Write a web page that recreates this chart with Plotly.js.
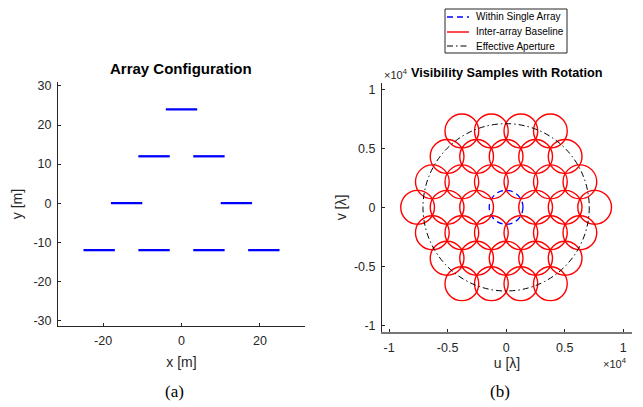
<!DOCTYPE html>
<html><head><meta charset="utf-8">
<script src="https://cdn.plot.ly/plotly-3.0.1.min.js"></script>
<style>html,body{margin:0;padding:0;background:#fff}</style>
</head><body><div id="chart" style="width:643px;height:407px"></div>
<script>
// ---- (a) Array configuration: array centers [m] and array length [m]
const arrayX = [0, -7, 7, -14, 14, -21, -7, 7, 21];
const arrayY = [24, 12, 12, 0, 0, -12, -12, -12, -12];
const arrayLength = 8;

// ---- (b) Visibility samples (units of 1e4 wavelengths)
const rowV = [0.648, 0.432, 0.216, 0, -0.216, -0.432, -0.648];
const rowU = [
  [-0.378, -0.126, 0.126, 0.378],
  [-0.504, -0.252, 0, 0.252, 0.504],
  [-0.63, -0.378, -0.126, 0.126, 0.378, 0.63],
  [-0.756, -0.504, -0.252, 0.252, 0.504, 0.756],
  [-0.63, -0.378, -0.126, 0.126, 0.378, 0.63],
  [-0.504, -0.252, 0, 0.252, 0.504],
  [-0.378, -0.126, 0.126, 0.378]
];
const sampleRadius = 0.144;      // radius of each visibility footprint
const singleArrayU = [0], singleArrayV = [0];
const apertureRadius = 0.71;     // effective aperture radius

const legendNames = ['Within Single Array', 'Inter-array Baseline', 'Effective Aperture'];

const W = 643, H = 407;
const fontFam = '"Liberation Sans", Arial, sans-serif';
const axCol = '#262626';
const styles = [
  {color: '#0000ff', width: 1.3, dash: '6px,4px'},
  {color: '#ff0000', width: 1.4, dash: 'solid'},
  {color: '#000000', width: 1, dash: '6px,3px,1.5px,3px'}
];

// build segments for the arrays
const segX = [], segY = [];
arrayX.forEach((cx, i) => {
  segX.push(cx - arrayLength / 2, cx + arrayLength / 2, null);
  segY.push(arrayY[i], arrayY[i], null);
});

const px = v => v / W, py = v => 1 - v / H;

const shapes = [];
const circ = (u, v, r, st) => ({type: 'circle', xref: 'x2', yref: 'y2', x0: u - r, x1: u + r,
    y0: v - r, y1: v + r, line: st, layer: 'above'});
singleArrayU.forEach((u, i) => shapes.push(circ(u, singleArrayV[i], sampleRadius, styles[0])));
rowV.forEach((v, r) => rowU[r].forEach(u => shapes.push(circ(u, v, sampleRadius, styles[1]))));
shapes.push(circ(0, 0, apertureRadius, styles[2]));

// legend box (MATLAB style)
shapes.push({type: 'rect', xref: 'paper', yref: 'paper', x0: px(445), x1: px(567), y0: py(53), y1: py(9),
  line: {color: axCol, width: 1}, fillcolor: '#fff'});
const legRows = [17, 32, 46];
legRows.forEach((ry, i) => shapes.push({type: 'line', xref: 'paper', yref: 'paper',
  x0: px(447), x1: px(469), y0: py(ry), y1: py(ry), line: styles[i]}));

const traces = [
  {x: segX, y: segY, xaxis: 'x', yaxis: 'y', mode: 'lines', line: {color: '#0000ff', width: 2.3},
   showlegend: false, hoverinfo: 'skip'},
  {x: [null], y: [null], xaxis: 'x2', yaxis: 'y2', mode: 'lines', showlegend: false, hoverinfo: 'skip'}
];

const baseAxis = {
  showline: true, linecolor: axCol, linewidth: 1, mirror: false,
  ticks: 'inside', ticklen: 3, tickcolor: axCol, tickwidth: 1,
  showgrid: false, zeroline: false, ticklabelstandoff: 3,
  tickfont: {family: fontFam, size: 12.5, color: axCol},
  fixedrange: true
};

const tickR = [-1, -0.5, 0, 0.5, 1];
const tickRText = ['-1', '-0.5', '0', '0.5', '1'];

const ann = (text, x, y, size, xanchor, extra) => Object.assign({text, xref: 'paper', yref: 'paper',
  x: px(x), y: py(y), xanchor: xanchor || 'center', yanchor: 'middle', showarrow: false,
  font: {family: fontFam, size, color: '#000'}}, extra || {});

const serif = '"Liberation Serif", "Times New Roman", serif';
const annotations = [
  ann('<b>Array Configuration</b>', 181, 68, 15),
  ann('<b>Visibility Samples with Rotation</b>', 507, 73, 12.7),
  ann('×10<sup>4</sup>', 382, 74, 11, 'left', {font: {family: fontFam, size: 11, color: axCol}}),
  ann('×10<sup>4</sup>', 629, 363, 11, 'right', {font: {family: fontFam, size: 11, color: axCol}}),
  ann('(a)', 174, 391, 17, 'center', {font: {family: serif, size: 17, color: '#000'}}),
  ann('(b)', 500, 391, 17, 'center', {font: {family: serif, size: 17, color: '#000'}})
];
legendNames.forEach((n, i) => annotations.push(ann(n, 474, legRows[i], 10, 'left')));

const titleFont = {family: fontFam, size: 14, color: axCol};
const layout = {
  width: W, height: H,
  margin: {l: 0, r: 0, t: 0, b: 0},
  paper_bgcolor: '#fff', plot_bgcolor: '#fff',
  font: {family: fontFam, color: axCol},
  showlegend: false,
  xaxis: Object.assign({}, baseAxis, {domain: [px(58), px(305)], range: [-31.5, 31.5],
    tickvals: [-20, 0, 20], ticktext: ['-20', '0', '20'], anchor: 'y',
    title: {text: 'x [m]', font: titleFont, standoff: 10}}),
  yaxis: Object.assign({}, baseAxis, {domain: [py(326), py(82)], range: [-31.4, 31],
    tickvals: [-30, -20, -10, 0, 10, 20, 30], ticktext: ['-30', '-20', '-10', '0', '10', '20', '30'], anchor: 'x',
    title: {text: 'y [m]', font: titleFont, standoff: 7}}),
  xaxis2: Object.assign({}, baseAxis, {domain: [px(382), px(632)], range: [-1.06, 1.075],
    tickvals: tickR, ticktext: tickRText, anchor: 'y2', linecolor: '#777', linewidth: 1.5,
    title: {text: 'u [λ]', font: titleFont, standoff: 4}}),
  yaxis2: Object.assign({}, baseAxis, {domain: [py(332), py(83)], range: [-1.058, 1.055],
    tickvals: tickR, ticktext: tickRText, anchor: 'x2',
    title: {text: 'v [λ]', font: titleFont, standoff: 4}}),
  shapes: shapes,
  annotations: annotations
};

Plotly.newPlot('chart', traces, layout, {staticPlot: true, displayModeBar: false});
</script></body></html>
